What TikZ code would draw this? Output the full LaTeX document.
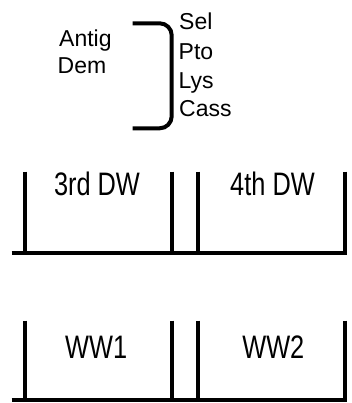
\documentclass[tikz,border=0pt]{standalone}
\usepackage{fontspec}
\setmainfont{Liberation Sans}
\newfontfamily\boxfont[FakeStretch=0.78]{Liberation Sans}
\newfontfamily\topfont{Liberation Sans}
\begin{document}
\begin{tikzpicture}[x=1pt,y=-1pt,
  toptext/.style={anchor=base west,inner sep=0pt,font=\topfont\fontsize{23}{27}\selectfont},
  boxtext/.style={anchor=base,inner sep=0pt,font=\boxfont\fontsize{32.5}{39}\selectfont},
  wall/.style={line width=4pt,line cap=butt}]
\useasboundingbox (0,0) rectangle (352,403);
% left labels
\node[toptext] (antig) at (59,46.3) {Antig};
\node[toptext] (dem) at (57.5,73.3) {Dem};
% right labels
\node[toptext] (sel) at (179,30) {Sel};
\node[toptext] (pto) at (178.5,59.3) {Pto};
\node[toptext] (lys) at (178.5,88.3) {Lys};
\node[toptext] (cass) at (179,116.6) {Cass};
% bracket
\coordinate (bt) at (132.7,23.3);
\coordinate (bb) at (132.7,128.3);
\draw[line width=4pt,rounded corners=12pt] (bt) -- (171.7,23.3) -- (171.7,128.3) -- (bb);
% upper boxes
\coordinate (ub1) at (11.7,253.3);
\coordinate (ub2) at (346.5,253.3);
\draw[wall] (ub1) -- (ub2);
\draw[wall] (25,171.7) -- (25,253.3);
\draw[wall] (171.7,171.7) -- (171.7,253.3);
\draw[wall] (198.3,171.7) -- (198.3,253.3);
\draw[wall] (344.5,171.7) -- (344.5,253.3);
\node[boxtext] (dw3) at (97,195) {3rd DW};
\node[boxtext] (dw4) at (272.5,195) {4th DW};
% lower boxes
\coordinate (lb1) at (11.7,400.3);
\coordinate (lb2) at (346.5,400.3);
\draw[wall] (lb1) -- (lb2);
\draw[wall] (25,320.7) -- (25,400.3);
\draw[wall] (171.7,320.7) -- (171.7,400.3);
\draw[wall] (198.3,320.7) -- (198.3,400.3);
\draw[wall] (344.5,320.7) -- (344.5,400.3);
\node[boxtext] (ww1) at (96.2,358.3) {WW1};
\node[boxtext] (ww2) at (273.3,358.3) {WW2};
\end{tikzpicture}
\end{document}
